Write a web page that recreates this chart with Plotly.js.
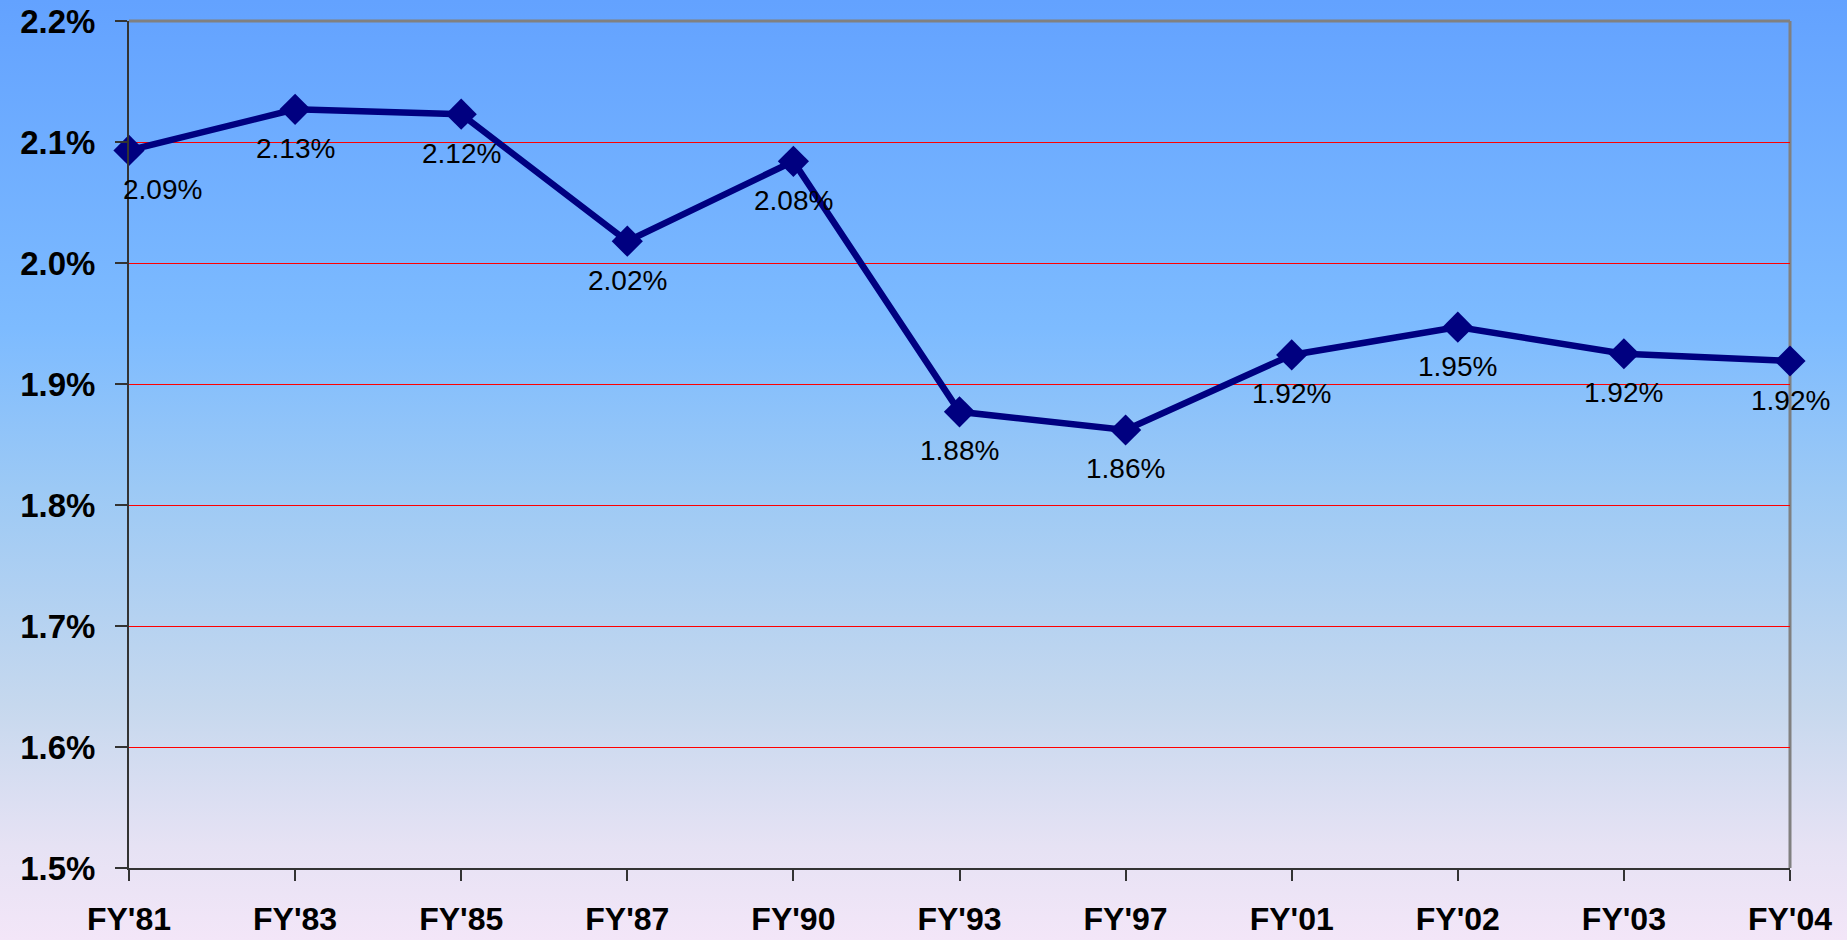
<!DOCTYPE html>
<html>
<head>
<meta charset="utf-8">
<script src="https://cdn.plot.ly/plotly-3.0.1.min.js"></script>
<style>
  html, body { margin: 0; padding: 0; }
  body {
    width: 1847px; height: 940px; overflow: hidden;
    background: linear-gradient(to bottom, #63A2FF 0%, #7DBBFF 35%, #9CC9F5 52%, #C6D8EE 75%, #E6E2F4 90%, #F3E6F8 100%);
  }
  #chart { width: 1847px; height: 940px; }
</style>
</head>
<body>
<div id="chart"></div>
<script>
const categories = ["FY'81", "FY'83", "FY'85", "FY'87", "FY'90", "FY'93", "FY'97", "FY'01", "FY'02", "FY'03", "FY'04"];
const values = [2.093, 2.127, 2.123, 2.018, 2.084, 1.877, 1.862, 1.924, 1.947, 1.925, 1.919];
const labels = ["2.09%", "2.13%", "2.12%", "2.02%", "2.08%", "1.88%", "1.86%", "1.92%", "1.95%", "1.92%", "1.92%"];
const yTicks = [1.5, 1.6, 1.7, 1.8, 1.9, 2.0, 2.1, 2.2];

const navy = '#000080';

const trace = {
  type: 'scatter',
  mode: 'lines+markers',
  x: categories,
  y: values,
  line: { color: navy, width: 6.5 },
  marker: { symbol: 'diamond', size: 24, color: navy },
  hoverinfo: 'skip',
  cliponaxis: false
};

const annotations = categories.map((c, i) => ({
  x: c, y: values[i], xref: 'x', yref: 'y',
  text: labels[i], showarrow: false,
  xanchor: 'center', yanchor: 'middle',
  xshift: i === 0 ? 33 : 0,
  yshift: -39,
  font: { family: 'Liberation Sans, Arial, sans-serif', size: 28, color: '#000000' }
}));

const layout = {
  width: 1847, height: 940,
  margin: { l: 129, r: 57, t: 21, b: 72 },
  paper_bgcolor: 'rgba(0,0,0,0)',
  plot_bgcolor: 'rgba(0,0,0,0)',
  showlegend: false,
  xaxis: {
    type: 'category',
    range: [0, categories.length - 1],
    showgrid: false,
    showline: true, linecolor: '#333333', linewidth: 2,
    ticks: 'outside', ticklen: 11, tickwidth: 2, tickcolor: '#333333',
    ticklabelstandoff: 11,
    tickfont: { family: 'Liberation Sans, Arial, sans-serif', size: 32, color: '#000000', weight: 'bold' },
    zeroline: false, fixedrange: true
  },
  yaxis: {
    range: [1.5, 2.2],
    tickvals: yTicks,
    ticktext: yTicks.map(v => v.toFixed(1) + '%'),
    showgrid: true, gridcolor: '#FF0000', gridwidth: 1,
    showline: true, linecolor: '#333333', linewidth: 2,
    ticks: 'outside', ticklen: 12, tickwidth: 2, tickcolor: '#333333',
    ticklabelstandoff: 13,
    tickfont: { family: 'Liberation Sans, Arial, sans-serif', size: 33, color: '#000000', weight: 'bold' },
    zeroline: false, fixedrange: true
  },
  shapes: [
    { type: 'line', xref: 'paper', yref: 'paper', x0: 0, x1: 1, y0: 1, y1: 1, line: { color: '#808080', width: 3 }, layer: 'above' },
    { type: 'line', xref: 'paper', yref: 'paper', x0: 1, x1: 1, y0: 0, y1: 1, line: { color: '#808080', width: 3 }, layer: 'below' }
  ],
  annotations: annotations
};

Plotly.newPlot('chart', [trace], layout, { displayModeBar: false, staticPlot: true });
</script>
</body>
</html>
